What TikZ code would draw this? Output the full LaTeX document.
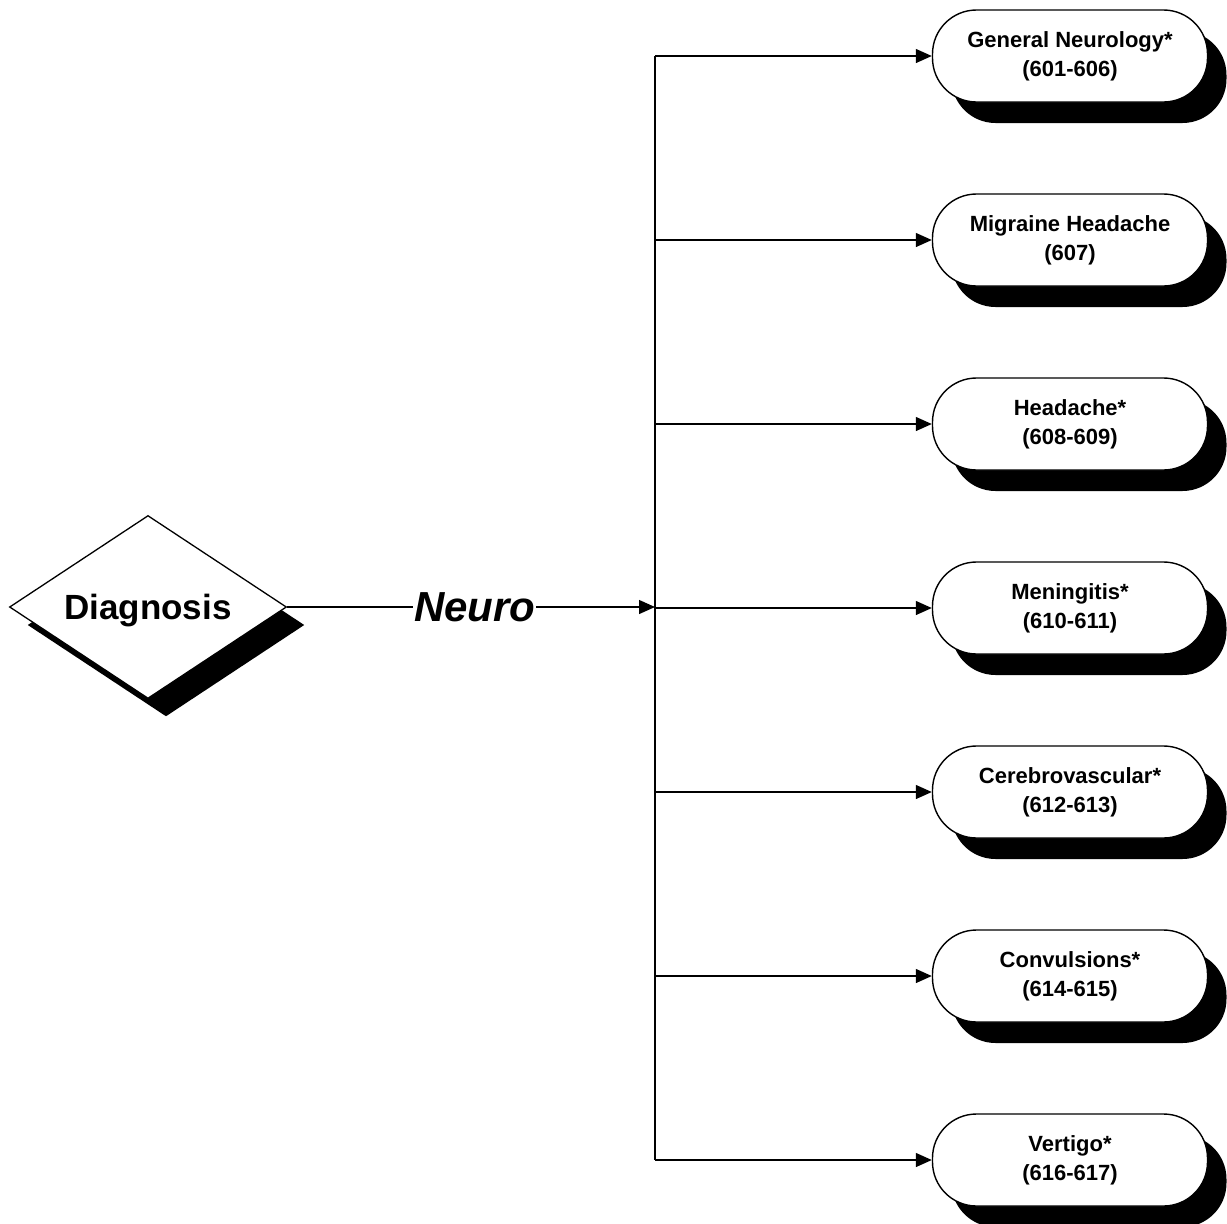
\documentclass[tikz,border=0pt]{standalone}
\usepackage{fontspec}
\setmainfont{Liberation Sans}
\usetikzlibrary{shapes.geometric,shadows,arrows.meta}
\begin{document}
\begin{tikzpicture}[x=1pt,y=-1pt,
  conn/.style={line width=1.3pt},
  arr/.style={conn,-{Triangle[length=16pt,width=14pt]}},
  leaf/.style={draw,line width=1.4pt,fill=white,rounded corners=44pt,
    minimum width=275pt,minimum height=92pt,inner sep=0pt,align=center,
    font=\bfseries\fontsize{22}{29}\selectfont,
    drop shadow={shadow xshift=19pt,shadow yshift=-21pt,opacity=1,fill=black}},
  decision/.style={diamond,draw,line width=1.3pt,fill=white,aspect=1.5,
    minimum width=277pt,minimum height=183pt,inner sep=0pt,text depth=0pt,
    font=\bfseries\fontsize{35}{40}\selectfont,
    drop shadow={shadow xshift=18pt,shadow yshift=-18pt,opacity=1,fill=black}}]
\useasboundingbox (0,0) rectangle (1227,1224);
\node[decision] (diag) at (148,607) {Diagnosis};
\node[leaf] (n1) at (1070,56) {General Neurology*\\(601-606)};
\node[leaf] (n2) at (1070,240) {Migraine Headache\\(607)};
\node[leaf] (n3) at (1070,424) {Headache*\\(608-609)};
\node[leaf] (n4) at (1070,608) {Meningitis*\\(610-611)};
\node[leaf] (n5) at (1070,792) {Cerebrovascular*\\(612-613)};
\node[leaf] (n6) at (1070,976) {Convulsions*\\(614-615)};
\node[leaf] (n7) at (1070,1160) {Vertigo*\\(616-617)};
\coordinate (jtop) at (655,56);
\coordinate (jbot) at (655,1160);
\coordinate (jmid) at (655,607);
\draw[conn] (jtop) -- (jbot);
\draw[arr] (diag.east) -- node[pos=0.51,fill=white,inner sep=1pt,
  font=\bfseries\itshape\fontsize{42}{45}\selectfont] (lab) {Neuro} (jmid);
\foreach \n in {n1,n2,n3,n4,n5,n6,n7}
  \draw[arr] (jtop |- \n.west) -- (\n.west);
\end{tikzpicture}
\end{document}
